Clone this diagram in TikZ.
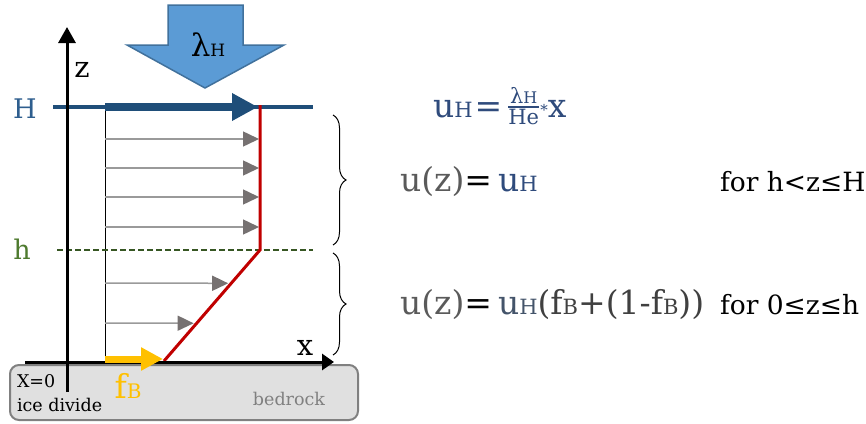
\documentclass[tikz,border=0pt]{standalone}
\usepackage{fontspec}
\setmainfont{DejaVu Serif}
\usetikzlibrary{arrows.meta, decorations.pathreplacing, calc, positioning}

\definecolor{hblue}{HTML}{1F4E79}
\definecolor{hlabelblue}{HTML}{2E5E8E}
\definecolor{bigblue}{HTML}{5B9BD5}
\definecolor{bigedge}{HTML}{41719C}
\definecolor{hgreen}{HTML}{375623}
\definecolor{hlabelgreen}{HTML}{4E7A2E}
\definecolor{icered}{HTML}{C00000}
\definecolor{slidegold}{HTML}{FFC000}
\definecolor{flowgray}{HTML}{9A9A9A}
\definecolor{headgray}{HTML}{767171}
\definecolor{rockfill}{HTML}{E0E0E0}
\definecolor{rockedge}{HTML}{808080}
\definecolor{eqblue}{HTML}{2F4B7C}
\definecolor{eqslate}{HTML}{44546A}
\definecolor{eqgray}{HTML}{5A5A5A}
\definecolor{eqdark}{HTML}{404040}

\newcommand{\smallidx}[1]{{\fontsize{17}{17}\selectfont #1}}
\newcommand{\eqidx}[1]{{\fontsize{21}{21}\selectfont #1}}

\begin{document}
\begin{tikzpicture}[x=1pt, y=-1pt, >=Triangle, semithick]

  \tikzstyle{every node}=[inner sep=0pt, outer sep=0pt]
  \tikzstyle{axis}=[line width=3pt, black]
  \tikzstyle{flow}=[line width=1.5pt, draw=flowgray, -{Triangle[length=16pt, width=15pt, fill=headgray, color=headgray]}]
  \tikzstyle{eq}=[anchor=base west, font=\fontsize{33}{36}\selectfont]
  \tikzstyle{rangetext}=[anchor=base west, font=\fontsize{26.5}{30}\selectfont]
  \tikzstyle{small}=[font=\fontsize{17.5}{20}\selectfont]
  \tikzstyle{bracket}=[decorate, decoration={brace, amplitude=13pt}, line width=1pt]

  \useasboundingbox (0,0) rectangle (866,423);

  \node[draw=rockedge, fill=rockfill, line width=2pt, rounded corners=9pt,
        minimum width=348pt, minimum height=55pt] (rock) at (184,392.5) {};

  \coordinate (ztail) at (67,392);
  \coordinate (ztip) at (67,27);
  \coordinate (xtail) at (25,362);
  \coordinate (xtip) at (334,362);
  \coordinate (Hwest) at (53,107);
  \coordinate (Heast) at (313,107);
  \coordinate (hwest) at (57,250);
  \coordinate (heast) at (313,250);
  \coordinate (surface) at (105,107);
  \coordinate (bed) at (105,362);
  \coordinate (ustop) at (258,107);
  \coordinate (redtop) at (260,105);
  \coordinate (redknee) at (260,250);
  \coordinate (redbed) at (164,361);
  \coordinate (slidestart) at (105,359);
  \coordinate (slideend) at (163,359);

  \draw[fill=bigblue, draw=bigedge, line width=1.5pt]
    (168,5) -- (243,5) -- (243,45) -- (284,45) -- (205,88) -- (127,45) -- (168,45) -- cycle;
  \node[font=\fontsize{31}{31}\selectfont] (lambda) at (208,45) {λ\smallidx{H}};

  \draw[line width=1pt] (surface) -- (bed);
  \foreach \y in {139,168,197,227}
    \draw[flow, shorten >=1pt] (surface |- 0,\y) -- (redtop |- 0,\y);
  \foreach \y/\f in {283/0.3, 323/0.66}
    \draw[flow, shorten >=3pt] (surface |- 0,\y) -- ($(redknee)!\f!(redbed)$);

  \draw[hgreen, line width=1.5pt, dash pattern=on 6pt off 3pt] (hwest) -- (heast);
  \draw[hblue, line width=4pt] (Hwest) -- (Heast);
  \draw[hblue, line width=8pt, -{Triangle[length=26pt, width=26pt]}] (surface) -- (ustop);

  \draw[icered, line width=3pt] (redtop) -- (redknee) -- (redbed);

  \draw[axis, -{Triangle[length=16pt, width=17pt]}] (ztail) -- (ztip);
  \draw[axis, -{Triangle[length=12pt, width=16pt]}] (xtail) -- (xtip);
  \draw[slidegold, line width=7pt, -{Triangle[length=22pt, width=22pt]}] (slidestart) -- (slideend);

  \node[text=hlabelblue, font=\fontsize{27}{27}\selectfont] (Hlabel) at (25,109) {H};
  \node[text=hlabelgreen, font=\fontsize{27}{27}\selectfont] (hlabel) at (22,249) {h};
  \node[font=\fontsize{29}{29}\selectfont] (zlabel) at (82,70) {z};
  \node[font=\fontsize{29}{29}\selectfont] (xlabel) at (305,348) {x};
  \node[text=slidegold, font=\fontsize{33}{33}\selectfont] (fBlabel) at (128,386) {f{\fontsize{20}{20}\selectfont B}};
  \node[small, anchor=base west] (divide) at (17,387) {X=0};
  \node[small, anchor=base west] (icedivide) at (17,411) {ice divide};
  \node[small, text=rockedge, anchor=base] (bedrock) at (289,405) {bedrock};

  \draw[bracket] (333,115) -- (333,245);
  \draw[bracket] (333,253) -- (333,355);

  \node[eq] (uHdef) at (433,117)
    {\color{eqblue}u\eqidx{H}\hspace{2pt}=\hspace{5pt}\raisebox{4pt}{${\mbox{\fontsize{21}{21}\selectfont λ{\fontsize{16}{16}\selectfont H}}\above 1.5pt \mbox{\fontsize{21}{21}\selectfont He}}$}\raisebox{2pt}{\fontsize{15}{15}\selectfont*}x};
  \node[eq] (upper) at (400,191)
    {\textcolor{eqgray}{u(z)}=\hspace{6pt}\textcolor{eqblue}{u\eqidx{H}}};
  \node[rangetext] (upperrange) at (720,191) {for h<z≤H};
  \node[eq] (lower) at (400,314)
    {\textcolor{eqgray}{u(z)}=\hspace{6pt}\textcolor{eqslate}{u\eqidx{H}}\textcolor{eqdark}{(f\eqidx{B}+(1-f\eqidx{B}))}};
  \node[rangetext] (lowerrange) at (720,314) {for 0≤z≤h};

\end{tikzpicture}
\end{document}
